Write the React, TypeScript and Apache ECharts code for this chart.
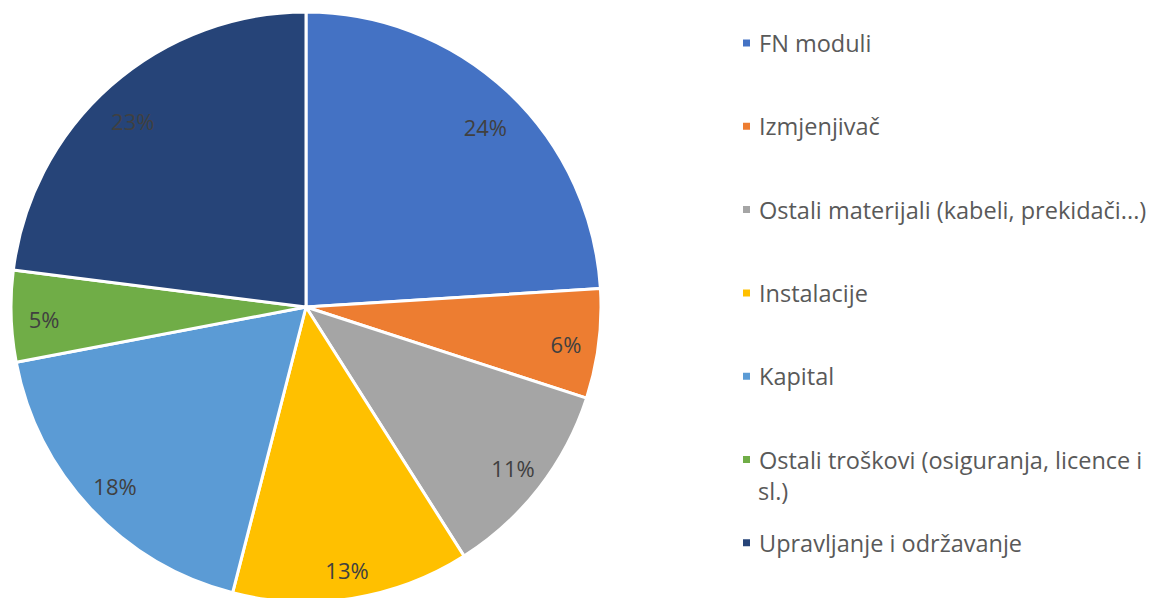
import React, { useEffect, useRef } from "react";
import * as echarts from "echarts";

const categories = [
  "FN moduli",
  "Izmjenjivač",
  "Ostali materijali (kabeli, prekidači...)",
  "Instalacije",
  "Kapital",
  "Ostali troškovi (osiguranja, licence i sl.)",
  "Upravljanje i održavanje",
];
const values = [24, 6, 11, 13, 18, 5, 23];
const colors = ["#4472C4", "#ED7D31", "#A5A5A5", "#FFC000", "#5B9BD5", "#70AD47", "#264478"];

const FONT = "'Open Sans', 'Noto Sans', sans-serif";
// labels of some slices sit a little lower in the reference (layout only)
const labelStyleKey = ["low", "mid", "n", "mid", "n", "mid", "low"];

export default function App() {
  const ref = useRef<HTMLDivElement>(null);
  useEffect(() => {
    document.body.style.margin = "0";
    const chart = echarts.init(ref.current!, null, { renderer: "svg" });
    const data = categories.map((name, i) => ({
      name,
      value: values[i],
      itemStyle: { color: colors[i] },
    }));
    const txt = { fontFamily: FONT, fontSize: 22, color: "#404040" };
    chart.setOption({
      animation: false,
      legend: {
        orient: "vertical",
        left: 741,
        top: 30,
        padding: 0,
        itemWidth: 9,
        itemHeight: 9,
        itemGap: 57.3,
        icon: "rect",
        selectedMode: false,
        data: categories,
        formatter: (name: string) =>
          name === categories[5] ? "Ostali troškovi (osiguranja, licence i" : name,
        textStyle: {
          fontFamily: FONT,
          fontSize: 23.5,
          lineHeight: 26,
          color: "#595959",
          padding: [0, 0, 0, 3],
        },
      },
      graphic: [
        {
          type: "text",
          left: 758,
          top: 479,
          style: {
            text: "sl.)",
            fontFamily: FONT,
            fontSize: 23.5,
            lineHeight: 23,
            fill: "#595959",
          },
        },
      ],
      series: [
        {
          type: "pie",
          center: [306, 307],
          radius: [0, 295],
          startAngle: 90,
          clockwise: true,
          data,
          label: { show: false },
          labelLine: { show: false },
          itemStyle: { borderColor: "#ffffff", borderWidth: 3 },
          emphasis: { disabled: true },
          silent: true,
        },
        {
          type: "pie",
          center: [306, 307],
          radius: [223, 295],
          startAngle: 90,
          clockwise: true,
          data: categories.map((name, i) => ({ name, value: values[i] })),
          itemStyle: { color: "rgba(0,0,0,0)" },
          label: {
            show: true,
            position: "inside",
            formatter: (p: any) => `{${labelStyleKey[p.dataIndex]}|${Math.round(p.percent)}%}`,
            ...txt,
            rich: {
              n: { ...txt },
              mid: { ...txt, padding: [8, 0, 0, 0] },
              low: { ...txt, padding: [22, 0, 0, 0] },
            },
          },
          labelLine: { show: false },
          emphasis: { disabled: true },
          silent: true,
        },
      ],
    });
    return () => chart.dispose();
  }, []);
  return <div ref={ref} style={{ width: 1155, height: 598 }} />;
}
